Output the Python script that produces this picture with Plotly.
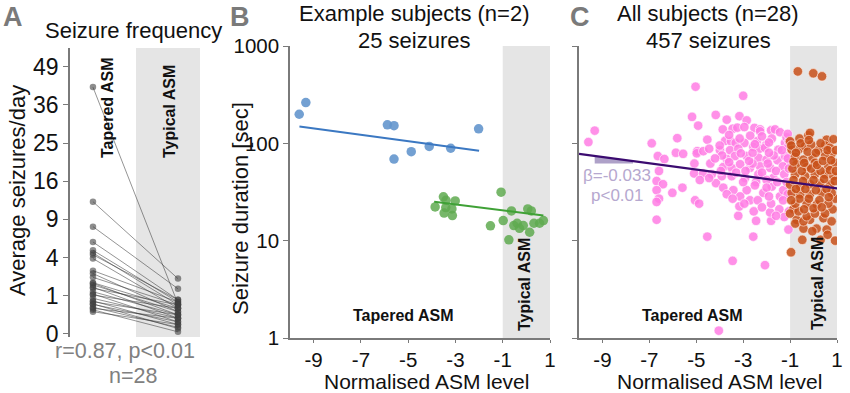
import numpy as np
import plotly.graph_objects as go

# ---------------- DATA ----------------
# Panel A: average seizures/day, paired per subject (tapered vs typical ASM)
a_tapered = [41.8, 12.0, 7.9, 5.8, 4.8, 4.5, 4.3, 3.9, 2.75, 2.5, 2.2, 1.8, 1.76, 1.65,
             1.5, 1.43, 1.22, 1.1, 1.04, 0.87, 0.75, 0.71, 0.62, 0.6, 0.49, 0.45, 0.4, 0.34]
a_typical = [0.62, 2.1, 1.4, 0.8, 0.7, 0.58, 0.8, 0.45, 0.7, 0.34, 0.58, 0.45, 0.25, 0.34,
             0.17, 0.58, 0.25, 0.1, 0.45, 0.17, 0.06, 0.25, 0.02, 0.1, 0.03, 0.17, 0.003, 0.06]
a_ticks = [0, 1, 4, 9, 16, 25, 36, 49]

# Panel B: two example subjects
blue_x = [-9.61, -9.33, -5.88, -5.60, -5.60, -4.87, -4.11, -3.20, -2.02]
blue_y = [199, 262, 155, 152, 69, 82, 93, 89, 141]
blue_fit_x = [-9.6, -2.0]
blue_fit_y = [149, 84]

green_x = [-3.86, -3.51, -3.40, -3.01, -3.41, -3.15, -3.48, -3.13,
           -1.07, -1.52, -0.98, -0.63, -0.74, -0.53, -0.39, -0.29, -0.13,
           0.06, 0.21, 0.14, 0.32, 0.56, 0.72]
green_y = [22.2, 28.2, 26.0, 25.6, 21.9, 21.2, 19.2, 18.1,
           31.5, 14.2, 16.1, 20.2, 10.2, 14.3, 15.1, 13.4, 14.3,
           21.2, 20.2, 12.2, 15.1, 15.1, 16.1]
green_fit_x = [-3.9, 0.72]
green_fit_y = [25.1, 18.1]

# Panel C: all subjects
pink_x = [-9.60, -9.33, -6.90, -6.64, -6.36, -5.81, -5.87, -5.56, -5.18, -5.03, -4.92, -4.96, -4.98, -5.08,
          -4.53, -6.59, -3.00, -4.17, -3.70, -3.16, -2.85, -3.87, -3.45, -3.25, -2.95, -2.52, -2.28, -1.81,
          -1.64, -1.43, -1.78, -3.77, -3.52, -3.32, -2.95, -2.42, -2.03, -1.22, -1.07, -3.99, -3.56, -3.21,
          -2.57, -2.31, -2.07, -1.50, -3.70, -3.35, -2.85, -2.35, -2.00, -1.54, -1.22, -1.07, -3.85, -3.49,
          -3.13, -2.71, -2.28, -1.85, -1.31, -4.70, -6.69, -6.42, -6.69, -6.59, -6.69, -6.02, -5.59, -6.69,
          -5.05, -4.88, -5.09, -4.71, -4.85, -4.53, -3.45, -2.07, -2.57, -2.45, -3.21, -1.81, -1.85, -1.46,
          -1.07, -4.16, -3.85, -3.16, -2.71, -2.38, -1.81, -1.43, -3.42, -2.85, -3.13, -2.14, -1.78, -1.29,
          -3.49, -2.92, -2.35, -1.72, -4.34, -3.91, -2.28, -4.04,
          -3.30, -2.90, -2.60, -2.20, -1.95, -1.60, -1.25, -3.60, -2.45, -2.00, -1.55, -3.00, -1.15, -2.75,
          -1.70, -3.90, -4.40, -4.20, -2.60, -1.90, -1.35, -3.10, -2.20, -2.70, -3.60, -4.00, -1.15, -1.90,
          -2.50, -3.15, -4.45, -3.95, -4.45, -1.10, -1.30, -1.05, -1.25, -1.60, -2.95, -2.55, -2.20, -3.70,
          -3.45, -2.00, -2.50, -1.90, -1.05, -1.10, -1.05, -1.10]
pink_y = [103, 135, 100, 74, 69, 113, 80, 78, 187, 382, 152, 83, 79, 62,
          109, 52, 308, 196, 175, 190, 172, 139, 141, 145, 147, 144, 139, 136,
          139, 130, 112, 106, 105, 101, 101, 105, 96, 101, 93, 85, 85, 88,
          92, 88, 90, 86, 69, 74, 74, 71, 68, 67, 74, 63, 57, 56,
          61, 56, 58, 56, 58, 83, 41, 38, 33, 27, 25, 31, 35, 16.4,
          26, 24, 49, 49, 42, 11, 6.2, 5.6, 11, 16, 18, 16, 19.5, 21,
          13, 39, 35, 22.5, 26, 26, 24, 28.5, 33, 33, 28.5, 31, 36, 33,
          46, 44, 48, 44, 48, 46, 133, 1.19,
          50, 52, 62, 50, 62, 52, 48, 64, 40, 42, 40, 40, 40, 66,
          75, 75, 62, 70, 80, 80, 85, 79, 118, 120, 122, 95, 115, 102,
          98, 112, 88, 52, 44, 30, 26, 20, 17.5, 18, 24, 20, 22, 30,
          27, 35, 37, 28.5, 55, 70, 105, 125]

brown_x = [-0.67, -0.01, 0.36, -0.60, -0.22, -0.15, 0.56, -1.00, -0.93, -0.64, -0.36, 0.21, 0.49, 0.77,
           -0.79, -0.43, -0.04, 0.49, -0.72, -0.29, 0.06, 0.63, 0.92, -0.96, -0.48, 0.30, 0.92, 0.13,
           0.56, -0.43, 0.92, 0.81, -0.72, -0.15, 0.42, -0.86, -0.78, -0.43, 0.77, -0.29, -1.00, -0.64,
           0.06, 0.49, -0.78, -0.29, 0.14, 0.63, -0.93, -0.57, -0.15, 0.35, 0.77, -1.00, -0.57, -0.15,
           0.28, 0.71, -0.78, -0.36, 0.06, 0.49, 0.84,
           -0.90, -0.50, -0.10, 0.30, 0.70, -0.85, -0.45, 0.00, 0.45, 0.90, -0.75, -0.35, 0.10, 0.55,
           -0.60, -0.20, 0.25, 0.65, -0.95, -0.40, 0.00, 0.35, -0.85, -0.40, 0.15, 0.40, 0.75, -0.95,
           -0.55, -0.10, 0.30, 0.70, -0.25, 0.10, 0.60, -0.75, 0.95, 0.95, -0.20, 0.85, -0.05, 0.60]
brown_y = [548, 524, 488, 112, 121, 128, 109, 105, 86, 86, 93, 85, 95, 78.5,
           73, 68, 71, 74, 61, 57, 63, 58, 63, 7.6, 10.2, 10.2, 10, 13.3,
           13, 13.3, 27, 21, 16.4, 16.4, 17, 21, 15, 15.8, 15.8, 17.8, 19, 20,
           19, 19, 24, 24, 23.5, 24, 31, 30, 30, 31, 31, 37.7, 36, 38,
           39, 38, 48, 46, 48, 48, 46,
           55, 52, 55, 52, 53, 42, 41, 42, 43, 41, 34, 34, 33, 34,
           27, 27, 26, 28, 26, 21, 21.5, 22, 65, 63, 60, 66, 67, 95,
           100, 97, 100, 90, 82, 80, 85, 80, 85, 52, 108, 110, 12.5, 11.5]
c_fit_x = [-10, 1]
c_fit_y = [78, 34.5]
slope_x = [-9.33, -7.7]
slope_bottom = 62

x_ticks = [-9, -7, -5, -3, -1, 1]
y_ticks_log = [1, 10, 100, 1000]

# ---------------- FIGURE ----------------
W, H = 850, 393
def fx(p): return p / W
def fy(p): return 1 - p / H

FONT = "Liberation Sans, Arial, sans-serif"
AX = "#7a7a7a"
fig = go.Figure()

# Panel A
for t, ty in zip(a_tapered, a_typical):
    fig.add_trace(go.Scatter(x=[0, 1], y=[np.sqrt(t), np.sqrt(ty)], mode="lines+markers",
                             line=dict(color="rgba(55,55,55,0.6)", width=0.9),
                             marker=dict(color="rgba(65,65,65,0.6)", size=6.5),
                             xaxis="x", yaxis="y", showlegend=False, hoverinfo="skip"))

# Panel B
fig.add_trace(go.Scatter(x=blue_x, y=blue_y, mode="markers", xaxis="x2", yaxis="y2",
                         marker=dict(color="rgba(100,150,205,0.9)", size=9.5), showlegend=False))
fig.add_trace(go.Scatter(x=blue_fit_x, y=blue_fit_y, mode="lines", xaxis="x2", yaxis="y2",
                         line=dict(color="#3b78c2", width=2), showlegend=False))
fig.add_trace(go.Scatter(x=green_x, y=green_y, mode="markers", xaxis="x2", yaxis="y2",
                         marker=dict(color="rgba(95,170,80,0.85)", size=9.5), showlegend=False))
fig.add_trace(go.Scatter(x=green_fit_x, y=green_fit_y, mode="lines", xaxis="x2", yaxis="y2",
                         line=dict(color="#3fa136", width=2), showlegend=False))

# Panel C
fig.add_trace(go.Scatter(x=pink_x, y=pink_y, mode="markers", xaxis="x3", yaxis="y3",
                         marker=dict(color="rgba(255,125,228,0.85)", size=9.5,
                                     line=dict(color="rgba(255,255,255,0.8)", width=0.8)),
                         showlegend=False))
fig.add_trace(go.Scatter(x=brown_x, y=brown_y, mode="markers", xaxis="x3", yaxis="y3",
                         marker=dict(color="rgba(200,80,25,0.85)", size=9.5,
                                     line=dict(color="rgba(255,235,225,0.8)", width=0.8)),
                         showlegend=False))
def fit_c(x):
    lx0, lx1 = np.log10(c_fit_y[0]), np.log10(c_fit_y[1])
    return 10 ** (lx0 + (lx1 - lx0) * (x - c_fit_x[0]) / (c_fit_x[1] - c_fit_x[0]))
sx = [slope_x[0], slope_x[1], slope_x[1], slope_x[0], slope_x[0]]
sy = [fit_c(slope_x[0]), fit_c(slope_x[1]), slope_bottom, slope_bottom, fit_c(slope_x[0])]
fig.add_trace(go.Scatter(x=sx, y=sy, mode="lines", fill="toself", fillcolor="rgba(160,145,190,0.85)",
                         line=dict(width=0), xaxis="x3", yaxis="y3", showlegend=False))
fig.add_trace(go.Scatter(x=c_fit_x, y=c_fit_y, mode="lines", xaxis="x3", yaxis="y3",
                         line=dict(color="#3b0b70", width=2.2), showlegend=False))

# Bands
shapes = [
    dict(type="rect", xref="x", yref="y domain", x0=0.506, x1=1.259, y0=0, y1=1,
         fillcolor="#e5e5e5", line=dict(width=0), layer="below"),
    dict(type="rect", xref="x2", yref="y2 domain", x0=-1, x1=1, y0=0, y1=1,
         fillcolor="#e5e5e5", line=dict(width=0), layer="below"),
    dict(type="rect", xref="x3", yref="y3 domain", x0=-1, x1=1, y0=0, y1=1,
         fillcolor="#e5e5e5", line=dict(width=0), layer="below"),
]

tickfont = dict(family=FONT, size=20.5, color="#111")
common_x = dict(range=[-10, 1], tickvals=x_ticks, ticktext=[str(v) for v in x_ticks],
                showline=True, linecolor=AX, linewidth=1.5, ticks="outside", ticklen=3,
                tickcolor=AX, showgrid=False, zeroline=False, tickfont=tickfont, automargin=False)
common_y = dict(type="log", range=[0, 3], tickvals=y_ticks_log, ticktext=["1", "10", "100", "1000"],
                showline=True, linecolor=AX, linewidth=1.5, ticks="outside", ticklen=5,
                tickcolor=AX, showgrid=False, zeroline=False, tickfont=tickfont, automargin=False)

fig.update_layout(
    template="none",
    width=W, height=H, autosize=False, margin=dict(l=0, r=0, t=0, b=0, pad=0),
    paper_bgcolor="white", plot_bgcolor="white", font=dict(family=FONT, color="#111"),
    shapes=shapes, showlegend=False,
    xaxis=dict(domain=[fx(70), fx(200)], range=[-0.27, 1.259], visible=False, automargin=False),
    yaxis=dict(domain=[fy(337), fy(48)], range=[-0.08, 7.49], anchor="x",
               tickvals=[np.sqrt(v) for v in a_ticks], ticktext=[str(v) for v in a_ticks],
               showline=True, linecolor=AX, linewidth=1.5, ticks="outside", ticklen=5,
               tickcolor=AX, showgrid=False, zeroline=False, automargin=False,
               tickfont=dict(family=FONT, size=23, color="#111")),
    xaxis2=dict(domain=[fx(290), fx(550)], anchor="y2", **common_x),
    yaxis2=dict(domain=[fy(338), fy(46)], anchor="x2", **common_y),
    xaxis3=dict(domain=[fx(579), fx(837)], anchor="y3", **common_x),
    yaxis3=dict(domain=[fy(338), fy(46)], anchor="x3", showticklabels=False, **common_y),
)

def ann(text, x, y, size=19, color="#111", bold=False, angle=0):
    t = f"<b>{text}</b>" if bold else text
    fig.add_annotation(text=t, x=fx(x), y=fy(y), xref="paper", yref="paper", showarrow=False,
                       xanchor="center", yanchor="middle", textangle=angle, borderpad=0,
                       font=dict(family=FONT, size=size, color=color))

# Panel letters
ann("A", 13, 17, size=27, color="#7a7a7a", bold=True)
ann("B", 240, 17, size=27, color="#7a7a7a", bold=True)
ann("C", 580, 17, size=27, color="#7a7a7a", bold=True)
# Titles
ann("Seizure frequency", 133, 31, size=22)
ann("Example subjects (n=2)", 414, 14, size=22)
ann("25 seizures", 414, 40, size=22)
ann("All subjects (n=28)", 708, 14, size=22)
ann("457 seizures", 708, 40, size=22)
# Axis titles
ann("Average seizures/day", 18, 191, size=22, angle=-90)
ann("Seizure duration [sec]", 240, 209, size=22, angle=-90)
ann("Normalised ASM level", 426, 381.5, size=21)
ann("Normalised ASM level", 719, 381.5, size=21)
# Stats
ann("r=0.87, p<0.01", 125, 351, size=21.5, color="#808080")
ann("n=28", 133, 376, size=21.5, color="#808080")
ann("β=-0.033", 617, 175, size=17, color="#b6a8cf")
ann("p<0.01", 617, 195, size=17, color="#b6a8cf")
# Region labels
ann("Tapered ASM", 107, 108, size=16, bold=True, angle=-90)
ann("Typical ASM", 169, 112, size=16, bold=True, angle=-90)
ann("Tapered ASM", 403, 315, size=16, bold=True)
ann("Typical ASM", 524, 285, size=16, bold=True, angle=-90)
ann("Tapered ASM", 692, 315, size=16, bold=True)
ann("Typical ASM", 817, 284, size=16, bold=True, angle=-90)

fig.write_html("out.html", config={"displayModeBar": False},
               post_script="document.body.style.margin='0';document.body.style.overflow='hidden';")
